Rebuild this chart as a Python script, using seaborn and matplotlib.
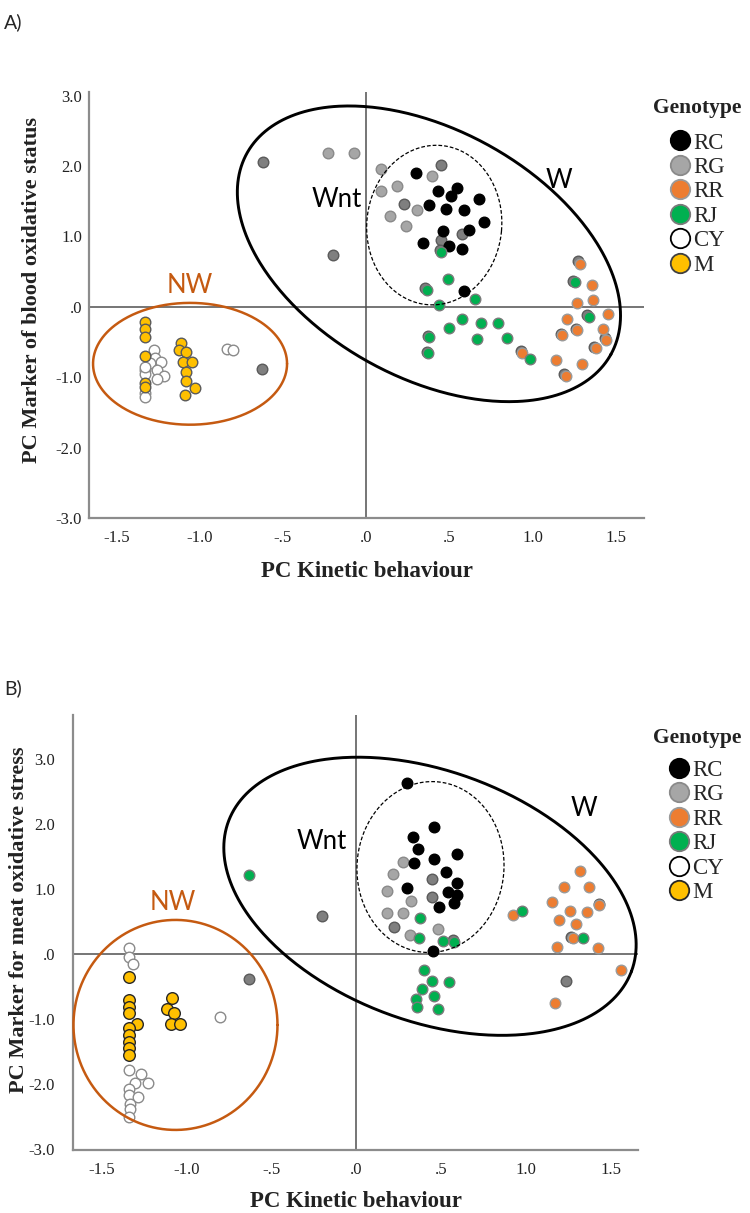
import numpy as np
import pandas as pd
import matplotlib
matplotlib.use("Agg")
import matplotlib.pyplot as plt
import seaborn as sns
from matplotlib.lines import Line2D

sns.set_theme(style="white")
plt.rcParams['font.family'] = ['Liberation Serif', 'DejaVu Serif']

# ---------------- data ----------------
genotypes = ["RC", "RG", "RR", "RJ", "CY", "M"]

# Panel A : PC Kinetic behaviour vs PC Marker of blood oxidative status
a_rc_x = [0.30, 0.434, 0.509, 0.546, 0.68, 0.38, 0.48, 0.59, 0.706, 0.465, 0.617, 0.344, 0.50, 0.575, 0.587]
a_rc_y = [1.90, 1.64, 1.57, 1.68, 1.53, 1.45, 1.39, 1.38, 1.20, 1.07, 1.09, 0.90, 0.87, 0.82, 0.23]
a_rg_x = [-0.226, -0.07, 0.088, 0.088, 0.184, 0.304, 0.144, 0.238, 0.395]
a_rg_y = [2.18, 2.18, 1.95, 1.64, 1.72, 1.37, 1.29, 1.15, 1.86]
# RG samples that overlap (drawn darker)
a_rgd_x = [-0.62, -0.196, 0.228, 0.45, 0.575, 0.45, -0.623, 0.355, 0.372, 0.366, 0.445,
           1.274, 1.243, 1.33, 1.17, 1.26, 1.435, 1.37, 1.19, 0.93]
a_rgd_y = [2.06, 0.74, 1.46, 2.01, 1.04, 0.95, -0.88, 0.26, -0.41, -0.64, 0.80,
           0.65, 0.36, -0.12, -0.38, -0.31, -0.45, -0.57, -0.96, -0.63]
a_rr_x = [1.283, 1.36, 1.265, 1.364, 1.454, 1.207, 1.426, 1.18, 1.27, 1.444, 1.38, 1.14, 1.30, 1.20, 0.94]
a_rr_y = [0.61, 0.31, 0.05, 0.10, -0.10, -0.175, -0.32, -0.40, -0.33, -0.47, -0.59, -0.75, -0.82, -0.98, -0.65]
a_rj_x = [0.45, 0.49, 0.364, 0.44, 0.656, 0.575, 0.69, 0.79, 0.50, 0.667, 0.847, 0.38, 0.374, 0.985, 1.254, 1.34]
a_rj_y = [0.78, 0.40, 0.24, 0.02, 0.11, -0.175, -0.23, -0.23, -0.30, -0.46, -0.44, -0.43, -0.66, -0.74, 0.35, -0.14]
a_cy_x = [-1.273, -1.267, -1.233, -1.297, -1.253, -1.327, -1.213, -1.253, -1.33, -1.33, -1.33, -1.33, -0.837, -0.797]
a_cy_y = [-0.61, -0.73, -0.78, -0.80, -0.90, -0.90, -0.99, -1.02, -0.96, -1.23, -1.28, -0.85, -0.60, -0.62]
a_m_x = [-1.33, -1.33, -1.33, -1.33, -1.33, -1.33, -1.111, -1.123, -1.081, -1.10, -1.043, -1.083, -1.081, -1.027, -1.087]
a_m_y = [-0.21, -0.32, -0.43, -0.70, -1.08, -1.14, -0.51, -0.62, -0.64, -0.78, -0.78, -0.93, -1.05, -1.15, -1.25]

# Panel B : PC Kinetic behaviour vs PC Marker for meat oxidative stress
b_rc_x = [0.299, 0.46, 0.338, 0.367, 0.593, 0.46, 0.344, 0.528, 0.593, 0.302, 0.544, 0.593, 0.58, 0.49, 0.456]
b_rc_y = [2.64, 1.96, 1.80, 1.62, 1.54, 1.46, 1.40, 1.27, 1.10, 1.02, 0.95, 0.91, 0.78, 0.72, 0.05]
b_rg_x = [0.275, 0.216, 0.181, 0.322, 0.185, 0.279, 0.485, 0.318]
b_rg_y = [1.42, 1.23, 0.97, 0.81, 0.64, 0.64, 0.39, 0.30]
b_rgd_x = [0.45, 0.45, 0.224, -0.199, -0.632, 1.24, 1.27, 1.43, 0.57]
b_rgd_y = [1.15, 0.88, 0.41, 0.59, -0.39, -0.42, 0.27, 0.77, 0.21]
b_rr_x = [0.928, 1.323, 1.228, 1.372, 1.435, 1.154, 1.26, 1.364, 1.199, 1.294, 1.278, 1.187, 1.424, 1.56, 1.17]
b_rr_y = [0.60, 1.28, 1.04, 1.03, 0.75, 0.80, 0.66, 0.65, 0.53, 0.46, 0.25, 0.11, 0.10, -0.25, -0.75]
b_rj_x = [-0.628, 0.978, 0.377, 0.373, 0.511, 0.578, 1.339, 0.40, 0.446, 0.548, 0.39, 0.461, 0.353, 0.358, 0.484]
b_rj_y = [1.22, 0.67, 0.56, 0.25, 0.20, 0.19, 0.25, -0.25, -0.41, -0.43, -0.54, -0.64, -0.69, -0.81, -0.85]
b_cy_x = [-1.336, -1.336, -1.316, -1.336, -1.27, -1.305, -1.226, -1.336, -1.336, -1.286, -1.33, -1.33, -1.336, -0.804]
b_cy_y = [0.10, -0.04, -0.15, -1.78, -1.84, -1.99, -1.99, -2.07, -2.17, -2.20, -2.31, -2.38, -2.50, -0.97]
b_m_x = [-1.336, -1.336, -1.336, -1.336, -1.289, -1.336, -1.336, -1.336, -1.336, -1.336, -1.084, -1.113, -1.075, -1.09, -1.04]
b_m_y = [-0.35, -0.70, -0.81, -0.90, -1.08, -1.13, -1.25, -1.35, -1.45, -1.55, -0.68, -0.84, -0.91, -1.08, -1.07]

x_ticks = [-1.5, -1.0, -0.5, 0.0, 0.5, 1.0, 1.5]
x_ticklabels = ["-1.5", "-1.0", "-.5", ".0", ".5", "1.0", "1.5"]
y_ticks = [3.0, 2.0, 1.0, 0.0, -1.0, -2.0, -3.0]
y_ticklabels = ["3.0", "2.0", "1.0", ".0", "-1.0", "-2.0", "-3.0"]

# ---------------- styles ----------------
fill = {"RC": "#000000", "RG": "#a6a6a6", "RGd": "#7f7f7f", "RR": "#ed7d31",
        "RJ": "#00b050", "CY": "#ffffff", "M": "#ffc000"}
edge = {"RC": "#000000", "RG": "#8a8a8a", "RGd": "#5a5a5a", "RR": "#9a9a9a",
        "RJ": "#7a7a7a", "CY": "#8a8a8a", "M": "#5a5a5a"}
order = ["RGd", "RG", "CY", "M", "RR", "RC", "RJ"]
NW_COL = "#c55a11"
SANS = ["Lato", "DejaVu Sans"]

W, H = 750, 1213
fig = plt.figure(figsize=(W / 100, H / 100), dpi=100)


def frac_axes(left, right, top, bottom):
    return fig.add_axes([left / W, 1 - bottom / H, (right - left) / W, (bottom - top) / H])


def draw_ellipse(ax, cx, cy, a_px, b_px, ang, **kw):
    t = np.linspace(0, 2 * np.pi, 400)
    p0 = ax.transData.transform((0, 0))
    p1 = ax.transData.transform((1, 1))
    sx, sy = p1 - p0
    th = np.deg2rad(ang)
    dx = a_px * np.cos(t) * np.cos(th) - b_px * np.sin(t) * np.sin(th)
    dy = a_px * np.cos(t) * np.sin(th) + b_px * np.sin(t) * np.cos(th)
    ax.plot(cx + dx / sx, cy + dy / sy, clip_on=False, **kw)


def panel(ax, data, xlim, ylim, ylabel, s_main, s_m, m_edge, ell, labels, ytick_pad, xtick_pad):
    ax.set_xlim(*xlim)
    ax.set_ylim(*ylim)
    ax.axhline(0, color="#505050", lw=1.1, zorder=1)
    ax.axvline(0, color="#505050", lw=1.1, zorder=1)
    for key in order:
        xs, ys = data[key]
        df = pd.DataFrame({"x": xs, "y": ys})
        s = s_m if key == "M" else s_main
        ec = m_edge if key == "M" else edge[key]
        sns.scatterplot(data=df, x="x", y="y", ax=ax, color=fill[key], edgecolor=ec,
                        s=s, linewidth=1.0, legend=False, zorder=3)
    (wc, wa, wb, wang), (nc, na, nb, nang), (oc, oa, ob, oang) = ell
    draw_ellipse(ax, wc[0], wc[1], wa, wb, wang, color="black", lw=2.1, zorder=4)
    draw_ellipse(ax, nc[0], nc[1], na, nb, nang, color="black", lw=0.9, ls=(0, (3, 1.6)), zorder=4)
    draw_ellipse(ax, oc[0], oc[1], oa, ob, oang, color=NW_COL, lw=1.8, zorder=4)
    for txt, (tx, ty), col in labels:
        ax.text(tx, ty, txt, ha="center", va="center", fontsize=18.5, color=col,
                family=SANS, zorder=5)
    ax.set_xticks(x_ticks)
    ax.set_xticklabels(x_ticklabels)
    ax.set_yticks(y_ticks)
    ax.set_yticklabels(y_ticklabels)
    ax.tick_params(axis="x", length=0, pad=xtick_pad, labelsize=12, labelcolor="#222222")
    ax.tick_params(axis="y", length=0, pad=ytick_pad, labelsize=12, labelcolor="#222222")
    for sp in ["top", "right"]:
        ax.spines[sp].set_visible(False)
    for sp in ["left", "bottom"]:
        ax.spines[sp].set_color("#8c8c8c")
        ax.spines[sp].set_linewidth(1.6)
    ax.set_xlabel("PC Kinetic behaviour", fontsize=16.5, fontweight="bold", color="#222222")
    ax.set_ylabel(ylabel, fontsize=16, fontweight="bold", color="#222222")


def legend(ax, x_title, y_title, x_leg, y_leg, m_edge):
    ax.text(x_title, y_title, "Genotype", transform=ax.transAxes, fontsize=15.5,
            fontweight="bold", ha="left", va="center", color="#222222")
    handles = []
    for g in genotypes:
        ec = m_edge if g == "M" else ("#000000" if g in ("RC", "CY") else edge[g])
        handles.append(Line2D([], [], ls="none", marker="o", markersize=14,
                              markerfacecolor=fill[g], markeredgecolor=ec, markeredgewidth=1.3))
    ax.legend(handles, genotypes, loc="upper left", bbox_to_anchor=(x_leg, y_leg),
              frameon=False, borderpad=0, borderaxespad=0, handlelength=0.95,
              handletextpad=0.12, labelspacing=0.15, fontsize=16.5)


# ---------------- panel A ----------------
axA = frac_axes(89, 644, 92, 518)
dataA = {"RC": (a_rc_x, a_rc_y), "RG": (a_rg_x, a_rg_y), "RGd": (a_rgd_x, a_rgd_y),
         "RR": (a_rr_x, a_rr_y), "RJ": (a_rj_x, a_rj_y), "CY": (a_cy_x, a_cy_y), "M": (a_m_x, a_m_y)}
panel(axA, dataA, (-1.664, 1.67), (-2.99, 3.05), "PC Marker of blood oxidative status",
      58, 58, "#5a5a5a",
      [((0.378, 0.752), 208, 124, -29), ((0.41, 1.16), 67.5, 80, -5), ((-1.057, -0.81), 97, 61, 0)],
      [("Wnt", (-0.176, 1.53), "black"), ("W", (1.16, 1.80), "black"), ("NW", (-1.057, 0.30), NW_COL)],
      ytick_pad=5, xtick_pad=9)
axA.yaxis.set_label_coords(-0.085, 0.535)
axA.xaxis.set_label_coords(0.5, -0.10)
legend(axA, 1.016, 0.962, 1.045, 0.905, "#404040")

# ---------------- panel B ----------------
axB = frac_axes(73, 638, 715, 1150)
dataB = {"RC": (b_rc_x, b_rc_y), "RG": (b_rg_x, b_rg_y), "RGd": (b_rgd_x, b_rgd_y),
         "RR": (b_rr_x, b_rr_y), "RJ": (b_rj_x, b_rj_y), "CY": (b_cy_x, b_cy_y), "M": (b_m_x, b_m_y)}
panel(axB, dataB, (-1.668, 1.662), (-3.015, 3.68), "PC Marker for meat oxidative stress",
      58, 70, "#262626",
      [((0.436, 0.89), 215, 125, -20.4), ((0.439, 1.34), 73.5, 85.5, -4), ((-1.064, -1.09), 102, 105, 0)],
      [("Wnt", (-0.202, 1.73), "black"), ("W", (1.345, 2.24), "black"), ("NW", (-1.079, 0.80), NW_COL)],
      ytick_pad=13, xtick_pad=9)
axB.yaxis.set_label_coords(-0.077, 0.53)
axB.xaxis.set_label_coords(0.5, -0.095)
legend(axB, 1.027, 0.948, 1.053, 0.897, "#262626")

fig.text(4 / W, 1 - 22 / H, "A)", fontsize=14, family=SANS, va="center", ha="left")
fig.text(4 / W, 1 - 688 / H, "B)", fontsize=14, family=SANS, va="center", ha="left")

fig.savefig("out.png", dpi=100, facecolor="white")
